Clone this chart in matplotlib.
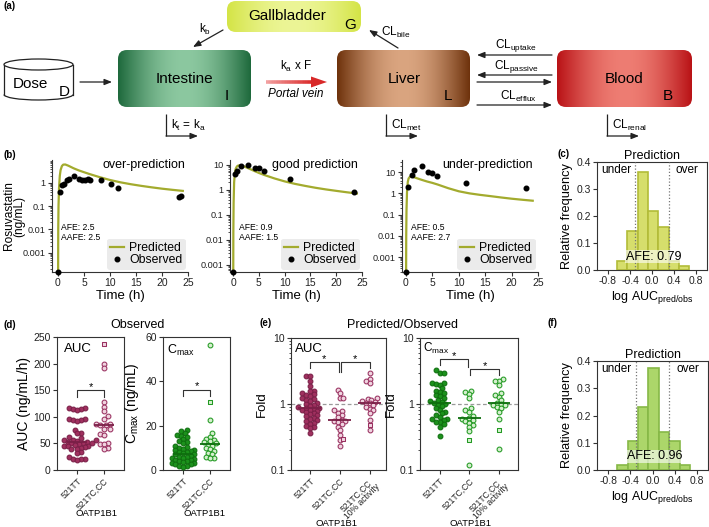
import numpy as np
import matplotlib
matplotlib.use('Agg')
import matplotlib.pyplot as plt
from matplotlib.patches import FancyBboxPatch, Ellipse, Arc, Polygon, Rectangle
from matplotlib.collections import LineCollection
from matplotlib.ticker import FixedLocator, LogLocator, NullFormatter, FixedFormatter

plt.rcParams['font.family'] = ['Liberation Sans', 'DejaVu Sans']
plt.rcParams['mathtext.fontset'] = 'custom'
plt.rcParams['mathtext.rm'] = 'Liberation Sans'
plt.rcParams['mathtext.it'] = 'Liberation Sans:italic'
plt.rcParams['mathtext.bf'] = 'Liberation Sans:bold'
plt.rcParams['axes.unicode_minus'] = False
plt.rcParams['axes.linewidth'] = 0.8
plt.rcParams['axes.edgecolor'] = '#333333'
for a in ('xtick', 'ytick'):
    plt.rcParams[a + '.major.width'] = 0.8
    plt.rcParams[a + '.major.size'] = 3
    plt.rcParams[a + '.minor.width'] = 0.6
    plt.rcParams[a + '.minor.size'] = 1.8
    plt.rcParams[a + '.color'] = '#333333'
    plt.rcParams[a + '.labelcolor'] = '#222222'
    plt.rcParams[a + '.major.pad'] = 1.5

# ======================= DATA =======================
# (b) Rosuvastatin PK profiles
time_pred = [0, 0.05, 0.1, 0.2, 0.35, 0.5, 0.75, 1.0, 1.4, 2, 3, 4, 5, 6, 8, 10, 12, 14, 16, 18, 20, 22, 24]
pred_over = [1e-6, 0.01, 0.1, 0.6, 2.0, 3.5, 5.2, 6.0, 6.1, 5.4, 4.2, 3.4, 2.85, 2.4, 1.75, 1.32, 1.05, 0.87, 0.74, 0.64, 0.56, 0.5, 0.45]
pred_good = [1e-6, 0.02, 0.3, 2.0, 5.0, 7.0, 8.8, 9.5, 9.7, 9.0, 7.3, 5.9, 4.8, 4.0, 2.9, 2.2, 1.75, 1.45, 1.22, 1.05, 0.92, 0.81, 0.72]
pred_under = [1e-6, 0.01, 0.15, 1.2, 3.5, 5.0, 6.0, 6.2, 5.9, 5.2, 4.3, 3.6, 3.1, 2.6, 1.75, 1.25, 1.0, 0.85, 0.74, 0.64, 0.56, 0.5, 0.45]

obs_over_t = [0, 0.4, 0.7, 1.2, 1.7, 2.1, 3.1, 4.1, 4.6, 5.2, 5.7, 6.1, 8.3, 10.2, 11.5, 23.3, 23.7]
obs_over_c = [1.5e-4, 0.4, 0.77, 0.88, 1.26, 1.39, 1.93, 1.39, 1.34, 1.34, 1.48, 1.26, 1.26, 0.9, 0.61, 0.24, 0.26]
obs_good_t = [0, 0.3, 0.8, 1.5, 2.9, 4.2, 5.0, 6.0, 11.1, 23.5]
obs_good_c = [5.2e-4, 4.5, 5.7, 9.1, 10.0, 7.8, 7.8, 5.7, 2.8, 0.83]
obs_under_t = [0, 0.45, 1.1, 1.5, 3.0, 4.2, 5.0, 5.9, 11.3, 22.8]
obs_under_c = [2e-4, 2.0, 7.2, 12.4, 19.0, 9.6, 8.6, 6.7, 3.2, 1.8]

b_titles = ['over-prediction', 'good prediction', 'under-prediction']
b_afe = ['2.5', '0.9', '0.5']
b_aafe = ['2.5', '1.5', '2.7']
b_yticks = [0.001, 0.01, 0.1, 1, 10]
b_yticklabels = ['0.001', '0.01', '0.1', '1', '10']

# (c), (f) histograms of log AUC pred/obs
hist_edges = [-0.64, -0.45, -0.26, -0.075, 0.11, 0.30, 0.49, 0.675]
freq_c = [0.034, 0.145, 0.363, 0.218, 0.16, 0.034, 0.015]
freq_f = [0.018, 0.106, 0.232, 0.375, 0.14, 0.106, 0.018]
afe_c = 'AFE: 0.79'
afe_f = 'AFE: 0.96'
fold_limits = [-0.301, 0.301]

# (d) observed AUC / Cmax by OATP1B1 genotype
genotypes_d = ['521TT', '521TC,CC']
auc_obs_tt = [116, 116, 115, 114, 113, 95, 95, 94, 94, 93, 76, 70, 69, 62, 61, 57, 56, 56, 55, 53,
              52, 51, 50, 50, 48, 47, 46, 45, 45, 44, 41, 40, 40, 33, 32, 25, 21, 20, 20, 19]
auc_obs_tc = [200, 192, 127, 119, 111, 102, 96, 87, 86, 85, 84, 78, 78, 67, 66, 51, 49, 48, 41, 39]
auc_obs_tc_sq = [237]
cmax_obs_tt = [18.0, 17.5, 16.5, 16.0, 15.5, 15.0, 14.0, 13.0, 12.5, 12.0, 11.0, 10.5, 10.0, 9.5, 9.0, 9.0,
               8.5, 8.0, 8.0, 7.5, 7.0, 7.0, 6.5, 6.0, 6.0, 5.5, 5.5, 5.0, 4.5, 4.5, 4.0, 4.0, 3.5, 3.0,
               3.0, 2.5, 2.5, 2.0, 2.0, 1.5]
cmax_obs_tc = [56.5, 22.5, 16.5, 15.0, 14.0, 13.5, 13.0, 12.5, 12.0, 11.5, 11.0, 10.0, 9.5, 8.5, 7.5,
               7.0, 6.0, 5.5, 5.5]
cmax_obs_tc_sq = [30.5]

# (e) predicted/observed fold
genotypes_e = ['521TT', '521TC,CC', '521TC,CC\n10% activity']
auc_fold_tt = [2.7, 2.7, 2.2, 1.9, 1.6, 1.55, 1.45, 1.4, 1.35, 1.3, 1.25, 1.2, 1.15, 1.1, 1.05, 1.0, 0.97,
               0.93, 0.9, 0.88, 0.86, 0.84, 0.82, 0.8, 0.78, 0.75, 0.72, 0.7, 0.68, 0.65, 0.62, 0.6, 0.57,
               0.55, 0.52, 0.5, 0.47, 0.45, 0.43, 0.36]
auc_fold_tc = [1.63, 1.45, 1.22, 1.22, 0.8, 0.78, 0.72, 0.68, 0.63, 0.58, 0.56, 0.55, 0.53, 0.5, 0.45,
               0.4, 0.34, 0.28, 0.23]
auc_fold_tc_sq = [0.30]
auc_fold_10 = [2.9, 2.36, 2.25, 2.05, 1.22, 1.18, 1.15, 1.12, 1.08, 1.05, 1.02, 0.95, 0.91, 0.85, 0.81,
               0.74, 0.57, 0.41]
auc_fold_10_sq = [0.48]
cmax_fold_tt = [3.27, 2.98, 2.98, 2.1, 2.05, 2.0, 1.95, 1.73, 1.6, 1.54, 1.45, 1.37, 1.3, 1.22, 1.15, 1.1,
                1.08, 1.05, 1.0, 0.97, 0.92, 0.86, 0.82, 0.76, 0.72, 0.68, 0.64, 0.6, 0.6, 0.58, 0.54,
                0.54, 0.5, 0.45, 0.33]
cmax_fold_tc = [1.59, 1.5, 1.4, 1.22, 0.86, 0.8, 0.76, 0.66, 0.62, 0.59, 0.57, 0.55, 0.52, 0.48, 0.45,
                0.39, 0.12]
cmax_fold_tc_sq = [0.28]
cmax_fold_10 = [2.36, 2.25, 2.25, 1.94, 1.45, 1.38, 1.29, 1.15, 1.05, 1.0, 0.98, 0.95, 0.9, 0.86, 0.76,
                0.59, 0.21]
cmax_fold_10_sq = [0.41]

# ======================= FIGURE =======================
W, H = 709, 527
fig = plt.figure(figsize=(W / 100, H / 100), dpi=100)


def px_axes(l, t, r, b):
    return fig.add_axes([l / W, 1 - b / H, (r - l) / W, (b - t) / H])


def ftext(x, y, s, **kw):
    fig.text(x / W, 1 - y / H, s, **kw)


# ---------------- (a) model scheme ----------------
axa = px_axes(0, 0, W, 150)
axa.axis('off')


def grad_box(x0, y0, x1, y1, edge, center, r=9, power=1.0):
    patch = FancyBboxPatch((x0, y0), x1 - x0, y1 - y0, boxstyle=f"round,pad=0,rounding_size={r}",
                           fc='none', ec='none')
    axa.add_patch(patch)
    t = np.linspace(0, 1, 256)
    w = np.sin((1 - np.abs(2 * t - 1)) * np.pi / 2) ** power
    e = np.array(edge) / 255.0
    c = np.array(center) / 255.0
    cols = e[None, :] * (1 - w[:, None]) + c[None, :] * w[:, None]
    im = axa.imshow(cols[None, :, :], extent=(x0, x1, y1, y0), aspect='auto', zorder=2,
                    interpolation='bilinear')
    im.set_clip_path(patch)


grad_box(227, 1, 361, 32, (212, 228, 70), (236, 245, 150))
grad_box(118, 50, 251, 107, (30, 105, 60), (140, 200, 160))
grad_box(337, 50, 470, 107, (110, 50, 12), (218, 165, 128))
grad_box(557, 50, 692, 107, (185, 18, 22), (238, 125, 115))

box_fs = 11
axa.text(287, 16, 'Gallbladder', ha='center', va='center', fontsize=box_fs, zorder=5)
axa.text(350, 25, 'G', ha='center', va='center', fontsize=box_fs, zorder=5)
axa.text(184, 79, 'Intestine', ha='center', va='center', fontsize=box_fs, zorder=5)
axa.text(227, 96, 'I', ha='center', va='center', fontsize=box_fs, zorder=5)
axa.text(404, 79, 'Liver', ha='center', va='center', fontsize=box_fs, zorder=5)
axa.text(448, 96, 'L', ha='center', va='center', fontsize=box_fs, zorder=5)
axa.text(624, 79, 'Blood', ha='center', va='center', fontsize=box_fs, zorder=5)
axa.text(668, 96, 'B', ha='center', va='center', fontsize=box_fs, zorder=5)

# Dose cylinder
cx0, cx1, ctop, cbot, eh = 4, 73, 64.5, 94.5, 11
cmid = (cx0 + cx1) / 2
axa.add_patch(Rectangle((cx0, ctop), cx1 - cx0, cbot - ctop, fc='white', ec='none', zorder=2))
axa.add_patch(Ellipse((cmid, cbot), cx1 - cx0, eh, fc='white', ec='none', zorder=2))
axa.add_patch(Arc((cmid, cbot), cx1 - cx0, eh, theta1=0, theta2=180, color='#222222', lw=0.9, zorder=3))
axa.plot([cx0, cx0], [ctop, cbot], color='#222222', lw=0.9, zorder=3)
axa.plot([cx1, cx1], [ctop, cbot], color='#222222', lw=0.9, zorder=3)
axa.add_patch(Ellipse((cmid, ctop), cx1 - cx0, eh, fc='white', ec='#222222', lw=0.9, zorder=3))
axa.text(30, 84, 'Dose', ha='center', va='center', fontsize=box_fs, zorder=5)
axa.text(64, 92, 'D', ha='center', va='center', fontsize=box_fs, zorder=5)


def arrow(p0, p1, lw=0.9):
    axa.annotate('', xy=p1, xytext=p0,
                 arrowprops=dict(arrowstyle='-|>,head_length=0.45,head_width=0.18', color='#222222',
                                 lw=lw, shrinkA=0, shrinkB=0), zorder=4)


lab_fs = 8.5
arrow((80, 82), (112, 82))
arrow((223, 30), (193, 47))
axa.text(205, 29, r'k$_\mathregular{b}$', ha='center', va='center', fontsize=lab_fs)
arrow((398, 48), (369, 30))
axa.text(396, 32, r'CL$_\mathregular{bile}$', ha='center', va='center', fontsize=lab_fs)

# red portal-vein arrow with light tail
segx = np.linspace(266, 313, 30)
segs = [[(segx[i], 82), (segx[i + 1], 82)] for i in range(len(segx) - 1)]
c0 = np.array([242, 160, 160]) / 255
c1 = np.array([218, 40, 40]) / 255
cols = [tuple(c0 + (c1 - c0) * i / (len(segs) - 1)) for i in range(len(segs))]
axa.add_collection(LineCollection(segs, colors=cols, linewidths=2.6, zorder=4))
axa.add_patch(Polygon([(311, 76.5), (327, 82), (311, 87.5)], closed=True, fc='#d82828', ec='none', zorder=4))
axa.text(296, 66, r'k$_\mathregular{a}$ x F', ha='center', va='center', fontsize=lab_fs)
axa.text(296, 94, 'Portal vein', ha='center', va='center', fontsize=lab_fs, style='italic')

arrow((552, 55), (477, 55))
axa.text(516, 46, r'CL$_\mathregular{uptake}$', ha='center', va='center', fontsize=lab_fs)
arrow((552, 75), (477, 75))
arrow((477, 82), (552, 82))
axa.text(516, 67, r'CL$_\mathregular{passive}$', ha='center', va='center', fontsize=lab_fs)
arrow((477, 105), (552, 105))
axa.text(518, 96, r'CL$_\mathregular{efflux}$', ha='center', va='center', fontsize=lab_fs)

for xv, lab in [(166, r'k$_\mathregular{t}$ = k$_\mathregular{a}$'), (386, r'CL$_\mathregular{met}$'),
                (607, r'CL$_\mathregular{renal}$')]:
    axa.plot([xv, xv], [114, 136], color='#222222', lw=0.9, solid_capstyle='butt')
    arrow((xv, 136), (xv + 32, 136))
    axa.text(xv + 5, 125, lab, ha='left', va='center', fontsize=lab_fs)

axa.set_xlim(0, W)
axa.set_ylim(150, 0)

# panel letters
for lx, ly, s in [(3, 6, '(a)'), (3, 155, '(b)'), (557, 154, '(c)'), (3, 325, '(d)'), (259, 323, '(e)'),
                  (548, 323, '(f)')]:
    ftext(lx, ly, s, fontsize=7, fontweight='bold', ha='left', va='center')

# ---------------- (b) PK profiles ----------------
b_px = [(52, 160, 188, 272), (230, 160, 362, 272), (402, 160, 538, 272)]
b_xlim = [(-1.15, 25), (-0.6, 25), (-0.75, 25)]
b_ylim = [(1.5e-4, 9.5), (5.2e-4, 15.8), (2e-4, 37)]
b_title_x = [0.978, 0.97, 0.963]
preds = [pred_over, pred_good, pred_under]
obs_t = [obs_over_t, obs_good_t, obs_under_t]
obs_c = [obs_over_c, obs_good_c, obs_under_c]
pred_col = '#a3ab2e'
for i in range(3):
    ax = px_axes(*b_px[i])
    ax.set_yscale('log')
    ax.plot(time_pred, preds[i], color=pred_col, lw=1.6, zorder=2, label='Predicted')
    ax.plot(obs_t[i], obs_c[i], 'o', ms=3.3, color='black', zorder=3, clip_on=False, label='Observed')
    ax.set_xlim(*b_xlim[i])
    ax.set_ylim(*b_ylim[i])
    ax.set_xticks([0, 5, 10, 15, 20, 25])
    ax.yaxis.set_major_locator(FixedLocator(b_yticks))
    ax.yaxis.set_major_formatter(FixedFormatter(b_yticklabels))
    ax.yaxis.set_minor_locator(LogLocator(base=10, subs=np.arange(2, 10)))
    ax.yaxis.set_minor_formatter(NullFormatter())
    ax.tick_params(axis='x', labelsize=7.5)
    ax.tick_params(axis='y', labelsize=6.6)
    for s in ('top', 'right'):
        ax.spines[s].set_visible(False)
    ax.set_xlabel('Time (h)', fontsize=9.5, labelpad=1)
    if i == 0:
        ax.set_ylabel('Rosuvastatin\n(ng/mL)', fontsize=8.6, linespacing=0.78)
        ax.yaxis.set_label_coords(-0.2, 0.5)
    ax.text(b_title_x[i], 0.955, b_titles[i], ha='right', va='center', fontsize=9, transform=ax.transAxes)
    ax.text(0.065, 0.35, f'AFE: {b_afe[i]}\nAAFE: {b_aafe[i]}', ha='left', va='center', fontsize=6.2,
            transform=ax.transAxes, linespacing=1.1)
    leg = ax.legend(loc='lower right', fontsize=8.8, frameon=True, fancybox=True, borderpad=0.25,
                    labelspacing=0.05, handlelength=1.1, handletextpad=0.45, borderaxespad=0.2)
    leg.get_frame().set_facecolor('#ebebeb')
    leg.get_frame().set_edgecolor('none')
    leg.get_frame().set_alpha(1)

# ---------------- (c), (f) histograms ----------------
hist_specs = [((597, 162, 707, 270), freq_c, '#d6de6c', '#b2bc38', afe_c),
              ((597, 361, 708, 470), freq_f, '#acd66a', '#86b847', afe_f)]
for axpx, freq, fill, edge, afe_txt in hist_specs:
    ax = px_axes(*axpx)
    ax.bar(hist_edges[:-1], freq, width=np.diff(hist_edges), align='edge', color=fill, edgecolor=edge,
           lw=1.2, zorder=2)
    for v in fold_limits:
        ax.axvline(v, color='#777777', ls=(0, (1, 1.6)), lw=0.9, zorder=3)
    ax.set_xlim(-1, 1)
    ax.set_ylim(0, 0.4)
    ax.set_xticks([-0.8, -0.4, 0, 0.4, 0.8])
    ax.set_xticklabels(['-0.8', '-0.4', '0.0', '0.4', '0.8'])
    ax.set_yticks([0, 0.1, 0.2, 0.3, 0.4])
    ax.set_yticklabels(['0.0', '0.1', '0.2', '0.3', '0.4'])
    ax.tick_params(labelsize=7.5)
    ax.set_title('Prediction', fontsize=9, pad=2)
    ax.set_xlabel(r'log AUC$_\mathregular{pred/obs}$', fontsize=9, labelpad=2)
    ax.set_ylabel('Relative frequency', fontsize=9.2, labelpad=2)
    ax.text(-0.93, 0.392, 'under', ha='left', va='top', fontsize=8.5, zorder=4)
    ax.text(0.85, 0.392, 'over', ha='right', va='top', fontsize=8.5, zorder=4)
    ax.text(0.036, 0.05, afe_txt, ha='center', va='center', fontsize=9, zorder=5,
            bbox=dict(fc='white', alpha=0.6, ec='none', pad=0.6))

# ---------------- (d), (e) strip plots ----------------
auc_fill, auc_edge = '#a0305f', '#7a1f47'
auc_open_fill, auc_open_edge = '#f0d4e0', '#993060'
cmx_fill, cmx_edge = '#1c921c', '#0e6e0e'
cmx_open_fill, cmx_open_edge = '#d6f0cf', '#229a22'
MS = 12
COLL = 3.8   # px spacing used for the swarm layout


def swarm_x(ax, xc, vals):
    vals = np.asarray(vals, float)
    pts = ax.transData.transform(np.column_stack([np.full(len(vals), xc), vals]))
    x0 = pts[0, 0]
    ys = pts[:, 1]
    order = np.argsort(ys)
    placed = []
    xs = np.full(len(vals), x0)
    step = COLL * 0.5
    flip = 1
    for i in order:
        y = ys[i]
        chosen = 0.0
        found = False
        for k in range(0, 60):
            cands = [0.0] if k == 0 else [flip * k * step, -flip * k * step]
            for off in cands:
                ok = True
                for (px_, py_) in placed:
                    if (px_ - (x0 + off)) ** 2 + (py_ - y) ** 2 < COLL ** 2:
                        ok = False
                        break
                if ok:
                    chosen = off
                    found = True
                    break
            if found:
                break
        if chosen != 0:
            flip = -1 if chosen > 0 else 1
        xs[i] = x0 + chosen
        placed.append((x0 + chosen, y))
    data = ax.transData.inverted().transform(np.column_stack([xs, ys]))
    return data[:, 0]


def strip(ax, xc, circ, sq, face, edge, med_col):
    allv = list(circ) + list(sq)
    xs = swarm_x(ax, xc, allv)
    n = len(circ)
    ax.scatter(xs[:n], circ, s=MS, marker='o', facecolor=face, edgecolor=edge, lw=0.75, zorder=3,
               clip_on=False)
    if sq:
        ax.scatter(xs[n:], sq, s=MS, marker='s', facecolor=face, edgecolor=edge, lw=0.75, zorder=3,
                   clip_on=False)
    med = np.median(allv)
    ax.plot([xc - 0.38, xc + 0.38], [med, med], color=med_col, lw=1.3, zorder=4, solid_capstyle='butt')


def bracket(ax, x1, x2, y, yl1, yl2):
    ax.plot([x1, x1, x2, x2], [yl1, y, y, yl2], color='#333333', lw=0.8, zorder=4, clip_on=False)
    ax.annotate('*', ((x1 + x2) / 2, y), xytext=(0, 0.3), textcoords='offset points', ha='center',
                va='baseline', fontsize=8)


def cat_axis(ax, labels):
    ax.set_xticks(range(len(labels)))
    ax.set_xticklabels(labels, rotation=45, ha='right', rotation_mode='anchor', fontsize=6.2,
                       multialignment='center', linespacing=0.88)
    ax.tick_params(axis='y', labelsize=7.5)


# (d) AUC
ax = px_axes(57, 337, 124, 470)
ax.set_xlim(-0.75, 1.75)
ax.set_ylim(0, 250)
ax.set_yticks([0, 50, 100, 150, 200, 250])
cat_axis(ax, genotypes_d)
strip(ax, 0, auc_obs_tt, [], auc_fill, auc_edge, auc_edge)
strip(ax, 1, auc_obs_tc, auc_obs_tc_sq, auc_open_fill, auc_open_edge, auc_edge)
bracket(ax, 0, 1, 150, 138, 138)
ax.text(0.1, 0.955, 'AUC', transform=ax.transAxes, ha='left', va='top', fontsize=9.5)
ax.set_ylabel('AUC (ng/mL/h)', fontsize=10, labelpad=2)

# (d) Cmax
ax = px_axes(163, 337, 230, 470)
ax.set_xlim(-0.75, 1.75)
ax.set_ylim(0, 60)
ax.set_yticks([0, 20, 40, 60])
cat_axis(ax, genotypes_d)
strip(ax, 0, cmax_obs_tt, [], cmx_fill, cmx_edge, cmx_edge)
strip(ax, 1, cmax_obs_tc, cmax_obs_tc_sq, cmx_open_fill, cmx_open_edge, cmx_edge)
bracket(ax, 0, 1, 36.1, 33.3, 33.3)
ax.text(0.06, 0.955, r'C$_\mathregular{max}$', transform=ax.transAxes, ha='left', va='top', fontsize=9)
ax.set_ylabel(r'C$_\mathregular{max}$ (ng/mL)', fontsize=10, labelpad=3)

ftext(138, 325, 'Observed', ha='center', va='center', fontsize=9)
ftext(96, 513, 'OATP1B1', ha='center', va='center', fontsize=6.8)
ftext(204, 513, 'OATP1B1', ha='center', va='center', fontsize=6.8)


def fold_axis(ax):
    ax.set_yscale('log')
    ax.set_ylim(0.1, 10)
    ax.yaxis.set_major_locator(FixedLocator([0.1, 1, 10]))
    ax.yaxis.set_major_formatter(FixedFormatter(['0.1', '1', '10']))
    ax.yaxis.set_minor_locator(LogLocator(base=10, subs=np.arange(2, 10)))
    ax.yaxis.set_minor_formatter(NullFormatter())
    ax.axhline(1, color='#9a9a9a', ls=(0, (3, 2)), lw=0.9, zorder=1)
    ax.set_ylabel('Fold', fontsize=9.5, labelpad=2)


# (e) AUC
ax = px_axes(291, 338, 386, 470)
ax.set_xlim(-0.63, 2.55)
fold_axis(ax)
cat_axis(ax, genotypes_e)
strip(ax, 0, auc_fold_tt, [], auc_fill, auc_edge, auc_edge)
strip(ax, 1, auc_fold_tc, auc_fold_tc_sq, auc_open_fill, auc_open_edge, auc_edge)
strip(ax, 2, auc_fold_10, auc_fold_10_sq, auc_open_fill, auc_open_edge, auc_edge)
bracket(ax, 0, 0.965, 4.28, 3.47, 3.1)
bracket(ax, 1.035, 2, 4.28, 3.1, 3.47)
ax.text(0.04, 0.965, 'AUC', transform=ax.transAxes, ha='left', va='top', fontsize=9.5)

# (e) Cmax
ax = px_axes(420, 338, 518, 470)
ax.set_xlim(-0.67, 2.65)
fold_axis(ax)
cat_axis(ax, genotypes_e)
strip(ax, 0, cmax_fold_tt, [], cmx_fill, cmx_edge, cmx_edge)
strip(ax, 1, cmax_fold_tc, cmax_fold_tc_sq, cmx_open_fill, cmx_open_edge, cmx_edge)
strip(ax, 2, cmax_fold_10, cmax_fold_10_sq, cmx_open_fill, cmx_open_edge, cmx_edge)
bracket(ax, 0, 0.97, 4.75, 3.9, 3.6)
bracket(ax, 1.03, 2, 3.39, 2.75, 2.75)
ax.text(0.03, 0.975, r'C$_\mathregular{max}$', transform=ax.transAxes, ha='left', va='top', fontsize=8.5)

ftext(402, 325, 'Predicted/Observed', ha='center', va='center', fontsize=9)
ftext(336, 523, 'OATP1B1', ha='center', va='center', fontsize=6.8)
ftext(470, 523, 'OATP1B1', ha='center', va='center', fontsize=6.8)

fig.savefig('out.png', dpi=100)
